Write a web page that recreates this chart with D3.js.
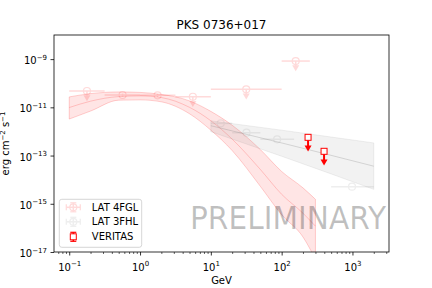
<!DOCTYPE html>
<html>
<head>
<meta charset="utf-8">
<script src="https://cdn.jsdelivr.net/npm/d3@7"></script>
<style>
  body { margin: 0; background: #fff; }
  svg { font-family: "DejaVu Sans", sans-serif; }
</style>
</head>
<body>
<div class="chart"></div>
<script>
// ---- data ----
// 4FGL flux points (GeV, erg cm-2 s-1)
let fglE = [0.178, 0.567, 1.77, 5.57, 31.6, 158];
let fglLo = [0.1, 0.316, 1, 3.16, 10, 100];
let fglHi = [0.316, 1, 3.16, 10, 100, 250];
let fglFlux = [4.75e-11, 3.24e-11, 3.15e-11, 2.75e-11, 5.58e-11, 8.3e-10];
let fglErrDn = [0, 2.8e-11, 2.7e-11, 0, 0, 0];
let fglErrUp = [0, 3.7e-11, 3.6e-11, 0, 0, 0];
let fglUL = [true, false, false, true, true, true];

// 4FGL model band
let bandE = [0.1, 0.2, 0.5, 1, 2, 5, 10, 20, 50, 100, 200, 300];
let bandMid = [9.8e-12, 1.8e-11, 2.79e-11, 2.98e-11, 2.54e-11, 1.0e-11, 2.77e-12, 4.8e-13, 2.65e-14, 2.47e-15, 4.06e-16, 1.18e-16];
let bandHi = [2.71e-11, 3.7e-11, 4.35e-11, 4.16e-11, 3.43e-11, 1.85e-11, 6.8e-12, 1.81e-12, 1.77e-13, 2.19e-14, 4.57e-15, 1.53e-15];
let bandLo = [3.26e-12, 7.0e-12, 1.98e-11, 2.04e-11, 1.69e-11, 5.4e-12, 1.13e-12, 1.61e-13, 5.3e-15, 3.5e-16, 4.2e-17, 5e-18];

// 3FHL flux points and power-law band
let fhlE = [13.8, 31.9, 86.3, 986];
let fhlLo = [10, 20, 50, 500];
let fhlHi = [20, 50, 150, 2000];
let fhlFlux = [2.17e-12, 8.85e-13, 4.72e-13, 5.1e-15];
let fhlBandE = [10, 100, 2000];
let fhlBandMid = [1.73e-12, 3.34e-13, 3.62e-14];
let fhlBandHi = [2.77e-12, 1.13e-12, 3.34e-13];
let fhlBandLo = [9.8e-13, 9.35e-14, 3.96e-15];

// VERITAS upper limits
let verE = [236, 397];
let verFlux = [5.7e-13, 1.5e-13];

let xTicks = [0.1, 1, 10, 100, 1000];
let xExp = ["−1", "0", "1", "2", "3"];
let yTicks = [1e-9, 1e-11, 1e-13, 1e-15, 1e-17];
let yExp = ["−9", "−11", "−13", "−15", "−17"];

// ---- layout ----
let svgWidth = 432;
let svgHeight = 288;
let margin = { top: 35, right: 43, bottom: 36, left: 54 };
let width = svgWidth - margin.left - margin.right;
let height = svgHeight - margin.top - margin.bottom;

let fglColor = "red";
let fhlColor = "gray";
let fglAlpha = 0.14;
let fhlAlpha = 0.13;
let ulFglFactor = 0.5;
let ulVerFactor = 0.33;

let svg = d3.select(".chart").append("svg")
  .attr("width", svgWidth)
  .attr("height", svgHeight);

let chartGroup = svg.append("g")
  .attr("transform", `translate(${margin.left}, ${margin.top})`);

let x = d3.scaleLog()
  .domain([Math.pow(10, -1.215), Math.pow(10, 3.516)])
  .range([0, width]);
let y = d3.scaleLog()
  .domain([1e-17, 1e-8])
  .range([height, 0]);

svg.append("defs").append("clipPath").attr("id", "clip")
  .append("rect").attr("width", width).attr("height", height);

let plot = chartGroup.append("g").attr("clip-path", "url(#clip)");

// 4FGL band
let fglBand = bandE.map((e, i) => ({ e: e, lo: bandLo[i], hi: bandHi[i], mid: bandMid[i] }));
plot.append("path")
  .datum(fglBand)
  .attr("d", d3.area().x(d => x(d.e)).y0(d => y(d.lo)).y1(d => y(d.hi)).curve(d3.curveMonotoneX))
  .attr("fill", fglColor).attr("fill-opacity", 0.1)
  .attr("stroke", fglColor).attr("stroke-opacity", 0.18).attr("stroke-width", 1);
plot.append("path")
  .datum(fglBand)
  .attr("d", d3.line().x(d => x(d.e)).y(d => y(d.mid)).curve(d3.curveMonotoneX))
  .attr("fill", "none")
  .attr("stroke", fglColor).attr("stroke-opacity", 0.18).attr("stroke-width", 1);

// 3FHL band
let fhlBand = fhlBandE.map((e, i) => ({ e: e, lo: fhlBandLo[i], hi: fhlBandHi[i], mid: fhlBandMid[i] }));
plot.append("path")
  .datum(fhlBand)
  .attr("d", d3.area().x(d => x(d.e)).y0(d => y(d.lo)).y1(d => y(d.hi)).curve(d3.curveMonotoneX))
  .attr("fill", fhlColor).attr("fill-opacity", 0.1)
  .attr("stroke", fhlColor).attr("stroke-opacity", 0.12).attr("stroke-width", 1);
plot.append("path")
  .datum(fhlBand)
  .attr("d", d3.line().x(d => x(d.e)).y(d => y(d.mid)).curve(d3.curveMonotoneX))
  .attr("fill", "none")
  .attr("stroke", fhlColor).attr("stroke-opacity", 0.28).attr("stroke-width", 1);

// 4FGL points
let fglPts = fglE.map((e, i) => ({ e: e, lo: fglLo[i], hi: fglHi[i], f: fglFlux[i],
  dn: fglErrDn[i], up: fglErrUp[i], ul: fglUL[i] }));
let fglG = plot.append("g").attr("opacity", fglAlpha);
fglG.selectAll(".xbar").data(fglPts).enter().append("line")
  .attr("x1", d => x(d.lo)).attr("x2", d => x(d.hi))
  .attr("y1", d => y(d.f)).attr("y2", d => y(d.f))
  .attr("stroke", fglColor).attr("stroke-width", 1.5);
fglG.selectAll(".ybar").data(fglPts.filter(d => !d.ul)).enter().append("line")
  .attr("x1", d => x(d.e)).attr("x2", d => x(d.e))
  .attr("y1", d => y(d.dn)).attr("y2", d => y(d.up))
  .attr("stroke", fglColor).attr("stroke-width", 1.5);
fglG.selectAll(".ularrow").data(fglPts.filter(d => d.ul)).enter().append("line")
  .attr("x1", d => x(d.e)).attr("x2", d => x(d.e))
  .attr("y1", d => y(d.f)).attr("y2", d => y(d.f * ulFglFactor))
  .attr("stroke", fglColor).attr("stroke-width", 1.5);
fglG.selectAll(".ulhead").data(fglPts.filter(d => d.ul)).enter().append("path")
  .attr("d", d => {
    let cx = x(d.e), cy = y(d.f * ulFglFactor);
    return `M${cx - 3.5},${cy - 3}L${cx + 3.5},${cy - 3}L${cx},${cy + 3}Z`;
  })
  .attr("fill", fglColor);
fglG.selectAll("circle").data(fglPts).enter().append("circle")
  .attr("cx", d => x(d.e)).attr("cy", d => y(d.f)).attr("r", 3.5)
  .attr("fill", "none").attr("stroke", fglColor).attr("stroke-width", 1.2);

// 3FHL points
let fhlPts = fhlE.map((e, i) => ({ e: e, lo: fhlLo[i], hi: fhlHi[i], f: fhlFlux[i] }));
let fhlG = plot.append("g").attr("opacity", fhlAlpha);
fhlG.selectAll("line").data(fhlPts).enter().append("line")
  .attr("x1", d => x(d.lo)).attr("x2", d => x(d.hi))
  .attr("y1", d => y(d.f)).attr("y2", d => y(d.f))
  .attr("stroke", fhlColor).attr("stroke-width", 1.5);
fhlG.selectAll("circle").data(fhlPts).enter().append("circle")
  .attr("cx", d => x(d.e)).attr("cy", d => y(d.f)).attr("r", 3.5)
  .attr("fill", "none").attr("stroke", fhlColor).attr("stroke-width", 1.2);

// VERITAS upper limits
let verPts = verE.map((e, i) => ({ e: e, f: verFlux[i] }));
let verG = plot.append("g");
verG.selectAll("line").data(verPts).enter().append("line")
  .attr("x1", d => x(d.e)).attr("x2", d => x(d.e))
  .attr("y1", d => y(d.f)).attr("y2", d => y(d.f * ulVerFactor))
  .attr("stroke", "red").attr("stroke-width", 2);
verG.selectAll("path").data(verPts).enter().append("path")
  .attr("d", d => {
    let cx = x(d.e), cy = y(d.f * ulVerFactor);
    return `M${cx - 3.5},${cy - 3.5}L${cx + 3.5},${cy - 3.5}L${cx},${cy + 2.5}Z`;
  })
  .attr("fill", "red");
verG.selectAll("rect").data(verPts).enter().append("rect")
  .attr("x", d => x(d.e) - 3).attr("y", d => y(d.f) - 3)
  .attr("width", 6).attr("height", 6)
  .attr("fill", "white").attr("stroke", "red").attr("stroke-width", 1);

// PRELIMINARY
chartGroup.append("text")
  .attr("x", 136).attr("y", 194)
  .attr("font-size", 32)
  .attr("textLength", 196).attr("lengthAdjust", "spacingAndGlyphs")
  .attr("fill", "black").attr("fill-opacity", 0.25)
  .text("PRELIMINARY");

// ---- axes ----
let minorX = [];
for (let p = -2; p <= 3; p++) {
  for (let m = 2; m <= 9; m++) {
    let v = m * Math.pow(10, p);
    if (v > x.domain()[0] && v < x.domain()[1]) minorX.push(v);
  }
}
chartGroup.append("g")
  .attr("transform", `translate(0, ${height})`)
  .call(d3.axisBottom(x).tickValues(minorX).tickSize(2).tickFormat(""))
  .call(g => g.select(".domain").remove())
  .call(g => g.selectAll("line").attr("stroke-width", 0.6));

let xAxis = chartGroup.append("g")
  .attr("transform", `translate(0, ${height})`)
  .call(d3.axisBottom(x).tickValues(xTicks).tickSize(3.5).tickPadding(3.5).tickFormat(""));
xAxis.select(".domain").remove();
xAxis.selectAll("line").attr("stroke-width", 0.8);
xAxis.selectAll(".tick text").each(function(d, i) {
  let t = d3.select(this).attr("font-size", 10).attr("fill", "black")
    .attr("dy", null).attr("y", 18.5).attr("font-family", "DejaVu Sans");
  t.append("tspan").text("10");
  t.append("tspan").attr("font-size", 7).attr("dy", -4.5).text(xExp[i]);
});

let yAxis = chartGroup.append("g")
  .call(d3.axisLeft(y).tickValues(yTicks).tickSize(3.5).tickPadding(3.5).tickFormat(""));
yAxis.select(".domain").remove();
yAxis.selectAll("line").attr("stroke-width", 0.8);
yAxis.selectAll(".tick text").each(function(d, i) {
  let t = d3.select(this).attr("font-size", 10).attr("fill", "black")
    .attr("dy", null).attr("y", 4.6).attr("font-family", "DejaVu Sans");
  t.append("tspan").text("10");
  t.append("tspan").attr("font-size", 7).attr("dy", -4.5).text(yExp[i]);
});

chartGroup.append("rect")
  .attr("width", width).attr("height", height)
  .attr("fill", "none").attr("stroke", "black").attr("stroke-width", 0.8);

// ---- legend ----
let legend = chartGroup.append("g").attr("transform", "translate(5.3, 164.3)");
legend.append("rect")
  .attr("width", 82.4).attr("height", 48).attr("rx", 2.5)
  .attr("fill", "white").attr("fill-opacity", 0.8)
  .attr("stroke", "#cccccc").attr("stroke-width", 0.8);

let legendNames = ["LAT 4FGL", "LAT 3FHL", "VERITAS"];
let legendColors = [fglColor, fhlColor, "red"];
let legendOpacity = [fglAlpha, fhlAlpha, 1];
let rowY = [8, 22.5, 37.5];

legendNames.forEach((name, i) => {
  let g = legend.append("g")
    .attr("transform", `translate(14, ${rowY[i]})`)
    .attr("opacity", legendOpacity[i]);
  let c = legendColors[i];
  if (i < 2) {
    g.append("line").attr("x1", -7).attr("x2", 7).attr("stroke", c).attr("stroke-width", 1.5);
    g.append("line").attr("y1", -4.5).attr("y2", 4.5).attr("stroke", c).attr("stroke-width", 1.5);
    [-7, 7].forEach(v => g.append("line").attr("x1", v).attr("x2", v).attr("y1", -3).attr("y2", 3)
      .attr("stroke", c).attr("stroke-width", 1.2));
    [-4.5, 4.5].forEach(v => g.append("line").attr("y1", v).attr("y2", v).attr("x1", -3).attr("x2", 3)
      .attr("stroke", c).attr("stroke-width", 1.2));
    g.append("circle").attr("r", 3.5).attr("fill", "none").attr("stroke", c).attr("stroke-width", 1.2);
  } else {
    g.append("line").attr("y1", -4.5).attr("y2", 4.5).attr("stroke", c).attr("stroke-width", 1.5);
    [-4.5, 4.5].forEach(v => g.append("line").attr("y1", v).attr("y2", v).attr("x1", -3).attr("x2", 3)
      .attr("stroke", c).attr("stroke-width", 1.2));
    g.append("rect").attr("x", -3).attr("y", -3).attr("width", 6).attr("height", 6)
      .attr("fill", "white").attr("stroke", c).attr("stroke-width", 1);
  }
  legend.append("text")
    .attr("x", 32.5).attr("y", rowY[i] + 3.6)
    .attr("font-size", 10)
    .text(name);
});

// ---- titles ----
svg.append("text")
  .attr("x", margin.left + width / 2).attr("y", 29)
  .attr("text-anchor", "middle").attr("font-size", 12)
  .text("PKS 0736+017");

svg.append("text")
  .attr("x", margin.left + width / 2).attr("y", 284)
  .attr("text-anchor", "middle").attr("font-size", 10)
  .text("GeV");

let yLabel = svg.append("text")
  .attr("transform", `translate(8.5, ${margin.top + height / 2}) rotate(-90)`)
  .attr("text-anchor", "middle").attr("font-size", 10);
yLabel.append("tspan").text("erg cm");
yLabel.append("tspan").attr("font-size", 7).attr("dy", -4).text("−2");
yLabel.append("tspan").attr("dy", 4).text(" s");
yLabel.append("tspan").attr("font-size", 7).attr("dy", -4).text("−1");
</script>
</body>
</html>
